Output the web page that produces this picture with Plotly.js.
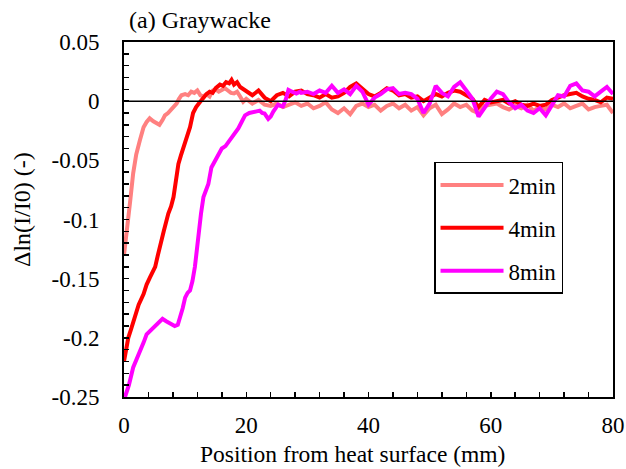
<!DOCTYPE html>
<html>
<head>
<meta charset="utf-8">
<script src="https://cdn.plot.ly/plotly-3.0.1.min.js"></script>
<style>html,body{margin:0;padding:0;background:#fff;}#chart{width:626px;height:469px;}</style>
</head>
<body>
<div id="chart"></div>
<script>
// ---- data ----
const seriesNames = ["2min", "4min", "8min"];

const x2 = [0,0.3,0.7,1.0,1.5,2.0,2.6,3.2,3.7,4.2,4.8,5.3,5.8,6.3,6.7,7.2,7.8,8.3,8.6,9.0,9.4,10,10.5,11,11.5,12,12.5,13,13.5,14,14.5,15,15.5,16,16.5,17,17.5,18,18.5,19,19.5,
  20,21,22,23,24,25,26,27,28,29,30,31,32,33,34,35,36,37,38,39,40,41,42,43,44,45,46,47,48,49,50,51,52,53,54,55,56,57,58,59,60,61,62,63,64,65,66,67,68,69,70,71,72,73,74,75,76,77,78,79,80];
const y2 = [-0.130,-0.118,-0.098,-0.085,-0.061,-0.045,-0.033,-0.022,-0.0175,-0.0145,-0.017,-0.019,-0.020,-0.016,-0.012,-0.010,-0.007,-0.004,-0.002,0.002,0.005,0.006,0.005,0.008,0.007,0.009,0.005,0.004,0.006,0.004,0.009,0.010,0.008,0.0095,0.011,0.009,0.007,0.0065,0.008,0.004,-0.0005,
  0.002,-0.002,0.001,-0.003,-0.004,-0.002,-0.005,-0.003,-0.001,-0.004,-0.002,-0.006,-0.004,-0.001,-0.007,-0.010,-0.006,-0.011,-0.004,-0.002,-0.005,-0.003,-0.008,-0.004,-0.002,-0.006,-0.003,-0.008,-0.005,-0.012,-0.006,-0.003,-0.011,-0.007,-0.002,-0.005,-0.003,-0.008,-0.010,-0.004,-0.003,-0.002,-0.005,-0.007,-0.004,-0.006,-0.003,-0.008,-0.005,-0.007,-0.003,-0.005,-0.002,-0.006,-0.004,-0.002,-0.007,-0.005,-0.004,-0.003,-0.010];

const x4 = [0,0.4,0.7,1.2,1.8,2.4,3.2,3.7,4.25,4.7,5.1,5.5,5.9,6.5,7.25,7.7,8.1,8.5,8.9,9.3,9.7,10.2,10.8,11.3,11.8,12.4,13,13.5,14,14.5,15,15.7,16.2,16.7,17.2,17.6,18,18.5,19,19.5,20,
  21,22,23,24,25,26,27,28,29,30,31,32,33,34,35,36,37,38,39,40,41,42,43,44,45,46,47,48,49,50,51,52,53,54,55,56,57,58,59,60,61,62,63,64,65,66,67,68,69,70,71,72,73,74,75,76,77,78,79,80];
const y4 = [-0.220,-0.210,-0.200,-0.192,-0.181,-0.172,-0.163,-0.155,-0.149,-0.145,-0.140,-0.131,-0.121,-0.110,-0.095,-0.089,-0.081,-0.068,-0.053,-0.046,-0.039,-0.030,-0.022,-0.010,-0.005,-0.001,0.003,0.006,0.008,0.007,0.011,0.014,0.013,0.016,0.015,0.018,0.014,0.016,0.012,0.010,0.008,
  0.005,0.009,0.003,0.000,0.005,0.007,0.004,0.008,0.009,0.006,0.005,0.003,0.006,0.003,0.004,0.007,0.012,0.015,0.010,0.006,0.004,0.007,0.011,0.009,0.005,0.006,0.003,0.004,0.000,0.003,0.006,0.004,0.007,0.009,0.008,0.005,0.002,-0.005,0.001,-0.001,0.000,0.001,-0.002,0.000,-0.003,-0.004,-0.002,-0.004,-0.003,0.001,0.003,0.005,0.006,0.007,0.004,0.002,0.001,-0.001,0.003,0.002];

const x8 = [0.16,0.8,1.5,2.1,2.6,3.2,3.7,4.3,4.8,5.5,6.3,6.9,7.5,8.3,8.8,9.2,9.6,10,10.4,10.8,11.2,11.6,11.9,12.2,12.6,13,13.4,13.8,14.3,14.8,15.2,15.6,16,16.6,17.3,18,18.7,19.2,19.8,20.5,21.2,21.7,22.2,22.6,23,23.6,24,24.4,24.8,25.2,25.6,26,26.5,26.9,27.5,28.2,28.8,
  29,30,31,32,33,34,35,36,37,38,39,40,41,42,43,44,45,46,47,48,49,50,51,52,53,54,55,56,57,58,59,60,61,62,63,64,65,66,67,68,69,70,71,72,73,74,75,76,77,78,79,80];
const y8 = [-0.250,-0.240,-0.225,-0.218,-0.211,-0.204,-0.197,-0.194,-0.191,-0.187,-0.184,-0.186,-0.188,-0.190,-0.189,-0.183,-0.175,-0.166,-0.162,-0.160,-0.152,-0.140,-0.125,-0.109,-0.095,-0.081,-0.074,-0.070,-0.056,-0.051,-0.047,-0.044,-0.040,-0.038,-0.033,-0.028,-0.023,-0.018,-0.012,-0.010,-0.009,-0.0085,-0.008,-0.010,-0.0105,-0.015,-0.013,-0.009,-0.006,-0.003,-0.004,-0.0045,0.002,0.0095,0.008,0.0065,0.008,
  0.007,0.008,0.006,0.009,0.007,0.013,0.007,0.010,0.006,0.013,0.008,-0.003,0.003,0.006,0.010,0.011,0.006,0.007,0.006,0.002,-0.010,-0.002,0.013,0.007,0.004,0.012,0.016,0.009,0.002,-0.013,-0.005,0.002,0.008,0.006,-0.001,-0.006,-0.003,-0.008,-0.010,-0.006,-0.012,-0.004,0.005,0.004,0.013,0.015,0.009,0.008,0.004,0.008,0.012,0.006];

const xTickVals = [0, 20, 40, 60, 80];
const yTickVals = [0.05, 0, -0.05, -0.1, -0.15, -0.2, -0.25];
const yTickText = ["0.05", "0", "-0.05", "-0.1", "-0.15", "-0.2", "-0.25"];
const xTitle = "Position from heat surface (mm)";
const yTitle = "Δln(I/I0) (-)";
const chartTitle = "(a) Graywacke";

// ---- styling ----
const colors = ["#FF8080", "#FF0000", "#FF00FF"];
const FONT = "Liberation Serif";
const FS = 23, FT = 24;
const xs = [x2, x4, x8], ys = [y2, y4, y8];

const traces = seriesNames.map((n, i) => ({
  x: xs[i], y: ys[i], name: n, type: "scatter", mode: "lines",
  line: {color: colors[i], width: 4},
  legendgroup: "g" + i
}));

const axisCommon = {
  showline: true, linecolor: "black", linewidth: 2, mirror: true,
  showgrid: false, ticks: "inside", tickcolor: "black", tickwidth: 1.5, ticklen: 5,
  tickfont: {family: FONT, size: FS, color: "black"},
};

const layout = {
  width: 626, height: 469,
  margin: {l: 124, r: 13, t: 42, b: 72},
  paper_bgcolor: "white", plot_bgcolor: "white",
  showlegend: true,
  font: {family: FONT, size: FS, color: "black"},
  title: {text: chartTitle, font: {family: FONT, size: FT, color: "black"},
          x: 129 / 626, xanchor: "left", xref: "container", y: 1 - 20 / 469, yanchor: "middle", yref: "container"},
  xaxis: Object.assign({}, axisCommon, {
    range: [0, 80], tickvals: xTickVals, zeroline: false,
    minor: {dtick: 4, ticks: "inside", ticklen: 5, tickcolor: "black", tickwidth: 1.5},
    ticklabelstandoff: 6
  }),
  yaxis: Object.assign({}, axisCommon, {
    range: [-0.25, 0.05], tickvals: yTickVals, ticktext: yTickText, zeroline: false,
    minor: {dtick: 0.01, tick0: 0, ticks: "inside", ticklen: 5, tickcolor: "black", tickwidth: 1.5},
    ticklabelstandoff: 18
  }),
  annotations: [
    {text: xTitle, xref: "paper", yref: "paper", x: (352 - 124) / 489, y: -(454 - 397) / 355,
     xanchor: "center", yanchor: "middle", showarrow: false, font: {family: FONT, size: 23.5, color: "black"}},
    {text: yTitle, xref: "paper", yref: "paper", x: (22 - 124) / 489, y: (397 - 210) / 355, textangle: -90,
     xanchor: "center", yanchor: "middle", showarrow: false, font: {family: FONT, size: FT, color: "black"}}
  ],
  shapes: [{type: "line", xref: "paper", x0: 0, x1: 1, yref: "y", y0: 0, y1: 0,
            line: {color: "black", width: 1.5}, layer: "above"}],
  legend: {
    x: 0.634, y: 0.662, xanchor: "left", yanchor: "top",
    bgcolor: "white", bordercolor: "black", borderwidth: 1.5,
    font: {family: FONT, size: FS, color: "black"},
    traceorder: "grouped", tracegroupgap: 10, itemwidth: 63, entrywidth: 132
  }
};

Plotly.newPlot("chart", traces, layout, {displayModeBar: false, staticPlot: true});
</script>
</body>
</html>
